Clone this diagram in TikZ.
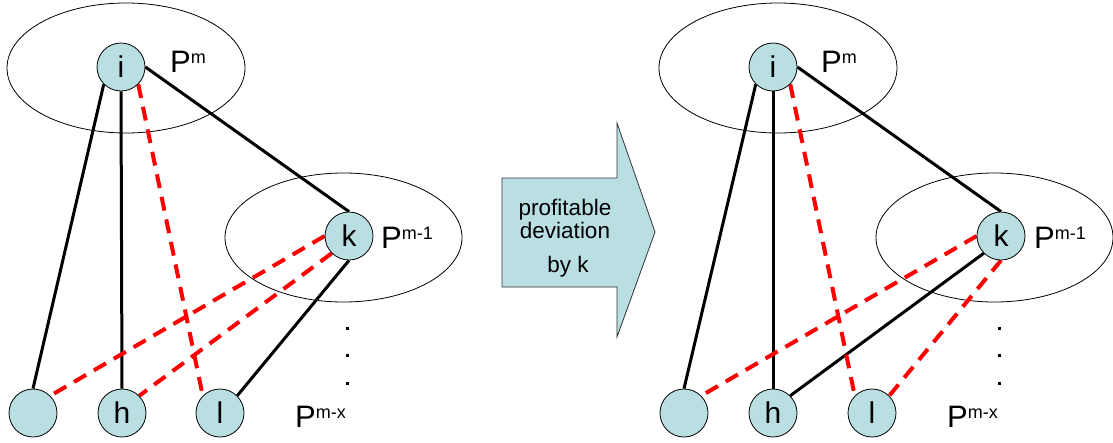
\documentclass[tikz,border=0pt]{standalone}
\usepackage{fontspec}
\setmainfont{Liberation Sans}
\usetikzlibrary{backgrounds}
\definecolor{nodefill}{HTML}{B9DFE3}
\newcommand{\plab}[1]{{\fontsize{31}{31}\selectfont P}\raisebox{9pt}{\fontsize{18}{18}\selectfont #1}}
\begin{document}
\begin{tikzpicture}[x=1pt,y=-1pt,
  vtx/.style={circle,draw=black,line width=0.8pt,fill=nodefill,minimum size=48pt,inner sep=0pt,font=\fontsize{30}{30}\selectfont},
  grp/.style={draw=black,line width=0.8pt},
  solidedge/.style={draw=black,line width=3pt},
  redge/.style={draw=red,line width=4pt,dash pattern=on 14pt off 9pt},
  plabel/.style={anchor=base west,inner sep=0pt},
  arrtext/.style={anchor=base,inner sep=0pt,font=\fontsize{22.5}{24}\selectfont},
  dotmark/.style={fill=black},
]
\useasboundingbox (0,0) rectangle (1113,442);

% ---------- left panel nodes ----------
\node[vtx] (Li) at (121,67) {i};
\node[vtx] (Lk) at (349,236) {k};
\node[vtx] (La) at (33,413) {};
\node[vtx] (Lh) at (122,413) {h};
\node[vtx] (Ll) at (220,413) {l};

% ---------- right panel nodes ----------
\node[vtx] (Ri) at (773,67) {i};
\node[vtx] (Rk) at (1001,236) {k};
\node[vtx] (Ra) at (684,413) {};
\node[vtx] (Rh) at (773,413) {h};
\node[vtx] (Rl) at (872,413) {l};

\begin{scope}[on background layer]
  % groups
  \draw[grp] (126,68) ellipse [x radius=119, y radius=65];
  \draw[grp] (343.5,237.5) ellipse [x radius=118.5, y radius=64.5];
  \draw[grp] (778,68) ellipse [x radius=119, y radius=65];
  \draw[grp] (994.5,237.5) ellipse [x radius=118.5, y radius=64.5];
  % left edges
  \draw[solidedge] (Li.south west) -- (La.north);
  \draw[solidedge] (Li.south) -- (Lh.north);
  \draw[solidedge] (Li.east) -- (Lk.north);
  \draw[solidedge] (Lk.south) -- (Ll.north east);
  \draw[redge] (Li.south east) -- (Ll.north west);
  \draw[redge] (Lk.west) -- (La.north east);
  \draw[redge] (Lk.south west) -- (Lh.north east);
  % right edges
  \draw[solidedge] (Ri.south west) -- (Ra.north);
  \draw[solidedge] (Ri.south) -- (Rh.north);
  \draw[solidedge] (Ri.east) -- (Rk.north);
  \draw[solidedge] (Rk.south west) -- (Rh.north east);
  \draw[redge] (Ri.south east) -- (Rl.north west);
  \draw[redge] (Rk.west) -- (Ra.north east);
  \draw[redge] (Rk.south) -- (Rl.north east);
\end{scope}

% labels
\node[plabel] (LPm) at (170,72) {\plab{m}};
\node[plabel] (LPm1) at (381,248) {\plab{m-1}};
\node[plabel] (LPmx) at (295,427) {\plab{m-x}};
\node[plabel] (RPm) at (821,72) {\plab{m}};
\node[plabel] (RPm1) at (1034,248) {\plab{m-1}};
\node[plabel] (RPmx) at (947,427) {\plab{m-x}};

% dots
\foreach \dx in {0,652}{
  \foreach \dy in {328,355,383}{
    \fill[dotmark] (346+\dx,\dy-1.5) rectangle ++(3,3);
  }
}

% big arrow
\draw[fill=nodefill,draw=black!80,line width=0.8pt]
  (502,178) -- (617,178) -- (617,123) -- (655,232) -- (617,337) -- (617,287) -- (502,287) -- cycle;
\node[arrtext] (a1) at (565,215) {profitable};
\node[arrtext] (a2) at (565,238) {deviation};
\node[arrtext] (a3) at (568,272) {by k};
\end{tikzpicture}
\end{document}
